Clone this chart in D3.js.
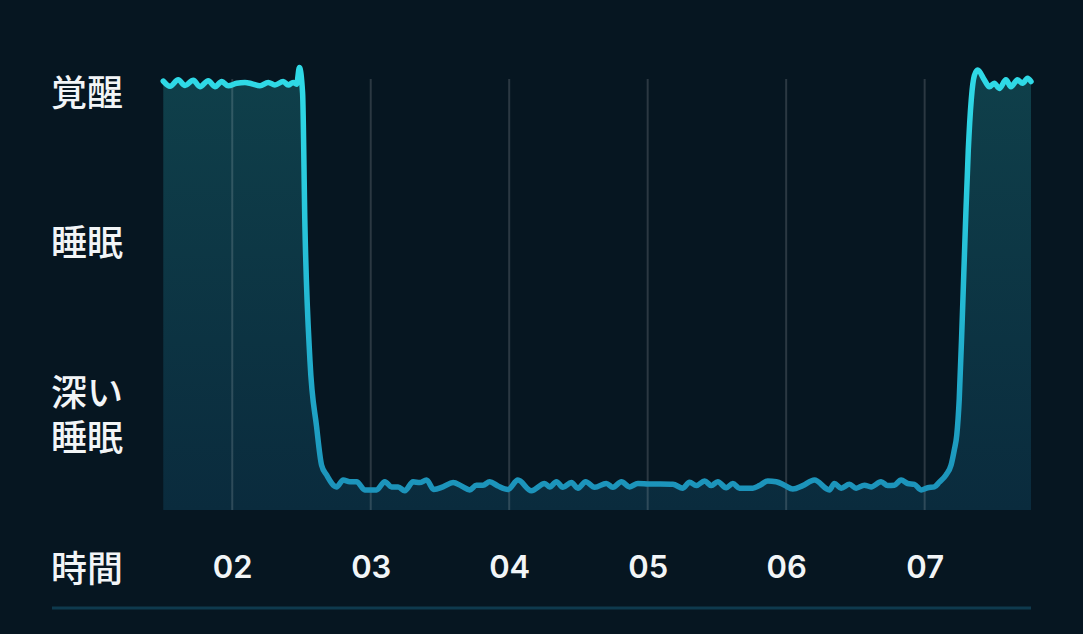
<!DOCTYPE html>
<html lang="ja">
<head>
<meta charset="utf-8">
<title>睡眠グラフ</title>
<script src="https://cdn.jsdelivr.net/npm/d3@7"></script>
<style>
  body {
    margin: 0;
    padding: 0;
    background: #061621;
    overflow: hidden;
  }
  .stage-label {
    fill: #f2f5f7;
    font-family: "Noto Sans CJK JP", sans-serif;
    font-weight: 500;
    font-size: 36px;
  }
  .hour-tick text {
    fill: #f2f5f7;
    font-family: "Inter", "Lato", sans-serif;
    font-weight: 600;
    font-size: 31px;
  }
</style>
</head>
<body>
<script>
// hours (decimal) and sleep level (100 = awake, ~5 = deep sleep)
var times = [
  1.502, 1.551, 1.610, 1.659, 1.719, 1.767, 1.827, 1.875, 1.924, 1.971,
  2.032, 2.092, 2.140, 2.200, 2.260, 2.308, 2.368, 2.404, 2.440, 2.465,
  2.485, 2.508, 2.525, 2.561, 2.609, 2.645, 2.681, 2.753,
  2.801, 2.849, 2.898, 2.957, 3.042, 3.102, 3.150, 3.198, 3.246, 3.306,
  3.354, 3.403, 3.455, 3.522, 3.595, 3.655, 3.715, 3.763, 3.811, 3.859,
  3.919, 3.991, 4.063, 4.160, 4.256, 4.292, 4.341, 4.388, 4.449, 4.496,
  4.552, 4.617, 4.701, 4.749, 4.810, 4.869, 4.929, 5.001, 5.182, 5.254,
  5.302, 5.351, 5.411, 5.459, 5.506, 5.567, 5.615, 5.663, 5.759, 5.807,
  5.867, 5.928, 5.988, 6.048, 6.120, 6.204, 6.312, 6.348, 6.397, 6.457,
  6.505, 6.565, 6.613, 6.685, 6.733, 6.781, 6.830, 6.877, 6.926, 6.974,
  7.022, 7.070, 7.106, 7.154, 7.191, 7.214, 7.232, 7.250, 7.272, 7.294,
  7.315, 7.337, 7.359, 7.383, 7.431, 7.467, 7.503, 7.539, 7.587, 7.623,
  7.671, 7.707, 7.743, 7.768
];
var levels = [
  100.2, 99.0, 100.5, 99.2, 100.4, 98.9, 100.3, 98.9, 100.1, 99.1,
  99.7, 99.9, 99.6, 99.1, 99.9, 99.3, 100.1, 99.3, 99.9, 99.5,
  103.4, 97.4, 66.2, 35.0, 19.5, 10.5, 8.2, 5.4,
  7.0, 6.6, 6.6, 4.7, 4.7, 6.6, 5.4, 5.4, 4.5, 6.6,
  6.4, 7.0, 4.8, 5.4, 6.4, 5.6, 4.7, 5.8, 5.8, 6.6,
  5.6, 4.8, 7.0, 4.5, 6.2, 5.4, 6.6, 5.3, 6.4, 5.1,
  6.6, 5.3, 6.2, 5.3, 6.6, 5.4, 6.2, 6.1, 6.0, 5.1,
  6.5, 5.7, 6.8, 5.7, 6.6, 5.2, 6.2, 5.1, 5.1, 5.7,
  6.8, 6.6, 5.8, 4.9, 5.7, 7.0, 4.7, 6.2, 5.1, 6.0,
  5.1, 5.8, 5.4, 6.6, 5.7, 5.8, 7.0, 6.2, 6.0, 4.7,
  5.2, 5.4, 6.5, 8.2, 10.5, 14.0, 17.5, 26.0, 45.0, 66.0,
  84.0, 96.0, 101.5, 102.8, 100.5, 98.9, 99.7, 98.5, 100.5, 98.9,
  100.5, 99.7, 100.9, 100.1
];
var hourTicks = [2, 3, 4, 5, 6, 7];
var hourLabels = ["02", "03", "04", "05", "06", "07"];
var stageLabels = [["覚醒"], ["睡眠"], ["深い", "睡眠"]];
var stageLevels = [98.1, 63.1, 28.0];
var axisTitle = "時間";

var W = 1083, H = 634;
var plotLeft = 163, plotRight = 1031, plotBottom = 510, plotTop = 82;

var svg = d3.select("body").append("svg")
  .attr("width", W)
  .attr("height", H);

var data = times.map(function (t, i) { return { t: t, v: levels[i] }; });

var x = d3.scaleLinear().domain([1.5, 7.768]).range([plotLeft, plotRight]);
var y = d3.scaleLinear().domain([0, 100]).range([plotBottom, plotTop]);

var defs = svg.append("defs");
var fillGrad = defs.append("linearGradient")
  .attr("id", "fillGrad")
  .attr("gradientUnits", "userSpaceOnUse")
  .attr("x1", 0).attr("x2", 0)
  .attr("y1", plotTop).attr("y2", plotBottom);
fillGrad.append("stop").attr("offset", "0%").attr("stop-color", "#0f3f4a");
fillGrad.append("stop").attr("offset", "100%").attr("stop-color", "#0a2b3d");

var lineGrad = defs.append("linearGradient")
  .attr("id", "lineGrad")
  .attr("gradientUnits", "userSpaceOnUse")
  .attr("x1", 0).attr("x2", 0)
  .attr("y1", plotTop).attr("y2", plotBottom - 20);
lineGrad.append("stop").attr("offset", "0%").attr("stop-color", "#2fd9e6");
lineGrad.append("stop").attr("offset", "55%").attr("stop-color", "#23b8d3");
lineGrad.append("stop").attr("offset", "100%").attr("stop-color", "#1c93ba");

var area = d3.area()
  .x(function (d) { return x(d.t); })
  .y0(y(0))
  .y1(function (d) { return y(d.v); })
  .curve(d3.curveMonotoneX);

var line = d3.line()
  .x(function (d) { return x(d.t); })
  .y(function (d) { return y(d.v); })
  .curve(d3.curveMonotoneX);

svg.append("path")
  .datum(data)
  .attr("d", area)
  .attr("fill", "url(#fillGrad)");

// vertical hour grid
svg.selectAll(".grid")
  .data(hourTicks)
  .enter().append("line")
  .attr("class", "grid")
  .attr("x1", function (d) { return x(d); })
  .attr("x2", function (d) { return x(d); })
  .attr("y1", y(100) - 3)
  .attr("y2", y(0))
  .attr("stroke", "rgba(255,255,255,0.15)")
  .attr("stroke-width", 2);

svg.append("path")
  .datum(data)
  .attr("d", line)
  .attr("fill", "none")
  .attr("stroke", "url(#lineGrad)")
  .attr("stroke-width", 5.5)
  .attr("stroke-linejoin", "round")
  .attr("stroke-linecap", "round");

// hour labels
var xAxis = d3.axisBottom(x)
  .tickValues(hourTicks)
  .tickFormat(function (d, i) { return hourLabels[i]; })
  .tickSize(0)
  .tickPadding(0);

var ax = svg.append("g")
  .attr("class", "hour-tick")
  .attr("transform", "translate(0,556)")
  .call(xAxis);
ax.select(".domain").remove();
ax.selectAll("text").attr("dy", "0.72em");

// stage labels, one text per line
stageLabels.forEach(function (lines, i) {
  lines.forEach(function (s, j) {
    svg.append("text")
      .attr("class", "stage-label")
      .attr("x", 51)
      .attr("y", y(stageLevels[i]) + j * 45)
      .attr("dominant-baseline", "central")
      .text(s);
  });
});

svg.append("text")
  .attr("class", "stage-label")
  .attr("x", 51)
  .attr("y", 566)
  .attr("dominant-baseline", "central")
  .text(axisTitle);

svg.append("line")
  .attr("x1", 52)
  .attr("x2", plotRight)
  .attr("y1", 608)
  .attr("y2", 608)
  .attr("stroke", "#0e3a4e")
  .attr("stroke-width", 3);
</script>
</body>
</html>
